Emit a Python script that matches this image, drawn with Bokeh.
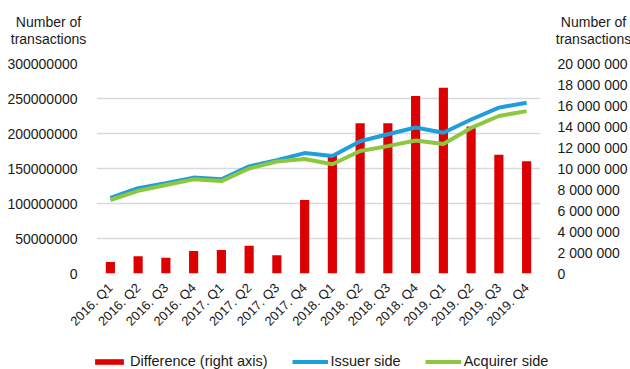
from bokeh.plotting import figure
from bokeh.layouts import column
from bokeh.models import (ColumnDataSource, FactorRange, Range1d, LinearAxis, FixedTicker,
                          NumeralTickFormatter, CustomJSTickFormatter, Legend, LegendItem)
from bokeh.core.properties import value
from bokeh.embed import file_html
from bokeh.resources import INLINE
import math

quarters = ["2016. Q1", "2016. Q2", "2016. Q3", "2016. Q4",
            "2017. Q1", "2017. Q2", "2017. Q3", "2017. Q4",
            "2018. Q1", "2018. Q2", "2018. Q3", "2018. Q4",
            "2019. Q1", "2019. Q2", "2019. Q3", "2019. Q4"]
difference = [1.1e6, 1.65e6, 1.5e6, 2.15e6, 2.25e6, 2.65e6, 1.75e6, 7.0e6,
              11.3e6, 14.3e6, 14.3e6, 16.9e6, 17.7e6, 14.0e6, 11.3e6, 10.7e6]
issuer = [108e6, 122e6, 129e6, 137e6, 134.5e6, 153e6, 162e6, 172e6,
          168e6, 189e6, 199e6, 208.5e6, 201e6, 220e6, 237e6, 244e6]
acquirer = [105e6, 118e6, 126.5e6, 134.5e6, 132e6, 150e6, 160e6, 163.5e6,
            156e6, 175e6, 182e6, 190e6, 185e6, 208e6, 225e6, 232e6]
left_ticks = [0, 50e6, 100e6, 150e6, 200e6, 250e6, 300e6]
right_ticks = [0, 2e6, 4e6, 6e6, 8e6, 10e6, 12e6, 14e6, 16e6, 18e6, 20e6]
title_lines = ["Number of", "transactions"]
series_names = ["Difference (right axis)", "Issuer side", "Acquirer side"]

FONT = "Liberation Sans"
TXT = "#1a1a1a"
RED, BLUE, GREEN = "#DD0000", "#1E9FDB", "#8DC63F"

W = 630
TOP_H = 50
BOT_H = 31
MAIN_H = 369 - TOP_H - BOT_H

def bare(h, xr, yr):
    f = figure(width=W, height=h, x_range=xr, y_range=yr,
               x_axis_location=None, y_axis_location=None, output_backend="svg",
               toolbar_location=None, min_border=0)
    f.outline_line_color = None
    f.grid.grid_line_color = None
    f.frame_align = False
    return f

src = ColumnDataSource(dict(q=quarters, diff=difference, iss=issuer, acq=acquirer))

# --- header with the two axis titles ---
top = bare(TOP_H, Range1d(0, W), Range1d(TOP_H, 0))
hdr = ColumnDataSource(dict(x=[48, 48, 593, 593], y=[21, 38, 21, 38],
                            t=title_lines + title_lines))
top.text(x="x", y="y", text="t", source=hdr, text_align="center", text_baseline="middle",
         text_font=value(FONT), text_font_size="14px", text_color=TXT)

# --- main chart ---
p = figure(width=W, height=MAIN_H, x_range=FactorRange(factors=quarters, range_padding=0),
           y_range=Range1d(0, 300e6), output_backend="svg", toolbar_location=None,
           min_border_left=96, min_border_right=84, min_border_top=63 - TOP_H,
           min_border_bottom=MAIN_H + TOP_H - 273)
p.outline_line_color = None
p.frame_align = False
p.extra_y_ranges = {"right": Range1d(0, 20e6)}

p.vbar(x="q", top="diff", width=0.33, source=src, y_range_name="right",
       fill_color=RED, line_color=None)
p.line(x="q", y="iss", source=src, line_color=BLUE, line_width=4)
p.line(x="q", y="acq", source=src, line_color=GREEN, line_width=4)

ya = p.yaxis[0]
ya.ticker = FixedTicker(ticks=left_ticks)
ya.formatter = NumeralTickFormatter(format="0")
ya.axis_line_color = None
ya.major_tick_line_color = None
ya.minor_tick_line_color = None
ya.major_label_text_font = FONT
ya.major_label_text_font_size = "14px"
ya.major_label_text_color = TXT
ya.major_label_standoff = 13

ra = LinearAxis(y_range_name="right", ticker=FixedTicker(ticks=right_ticks),
                formatter=CustomJSTickFormatter(code="return tick.toFixed(0).replace(/\\B(?=(\\d{3})+(?!\\d))/g, ' ');"))
ra.axis_line_color = None
ra.major_tick_line_color = None
ra.minor_tick_line_color = None
ra.major_label_text_font = FONT
ra.major_label_text_font_size = "14px"
ra.major_label_text_color = TXT
ra.major_label_standoff = 11
p.add_layout(ra, "right")

xa = p.xaxis[0]
xa.axis_line_color = None
xa.major_tick_line_color = None
xa.minor_tick_line_color = None
xa.major_label_orientation = math.pi / 4
xa.major_label_text_font = FONT
xa.major_label_text_font_size = "13px"
xa.major_label_text_color = TXT
xa.major_label_standoff = 6

p.xgrid.grid_line_color = None
p.ygrid.grid_line_color = "#D9D9D9"
p.ygrid.grid_line_width = 1.5
p.ygrid.ticker = FixedTicker(ticks=left_ticks)

# --- legend strip (key renderers share the data but are hidden) ---
bot = bare(BOT_H, FactorRange(factors=quarters), Range1d(0, 1))
kb = bot.vbar(x="q", top="diff", width=0.33, source=src, fill_color=RED, line_color=None)
ki = bot.line(x="q", y="iss", source=src, line_color=BLUE, line_width=4)
ka = bot.line(x="q", y="acq", source=src, line_color=GREEN, line_width=4)
for r in (kb, ki, ka):
    r.visible = False
legend = Legend(items=[LegendItem(label=series_names[0], renderers=[kb]),
                       LegendItem(label=series_names[1], renderers=[ki]),
                       LegendItem(label=series_names[2], renderers=[ka])],
                orientation="horizontal", location=(91, 0),
                glyph_width=36, glyph_height=7, label_standoff=3, spacing=24,
                padding=0, margin=0, border_line_color=None, background_fill_alpha=0,
                inactive_fill_alpha=0,
                label_text_font=FONT, label_text_font_size="14.5px", label_text_color=TXT)
bot.add_layout(legend, "center")

layout = column(top, p, bot, spacing=0)
open("out.html", "w").write(file_html(layout, INLINE))
